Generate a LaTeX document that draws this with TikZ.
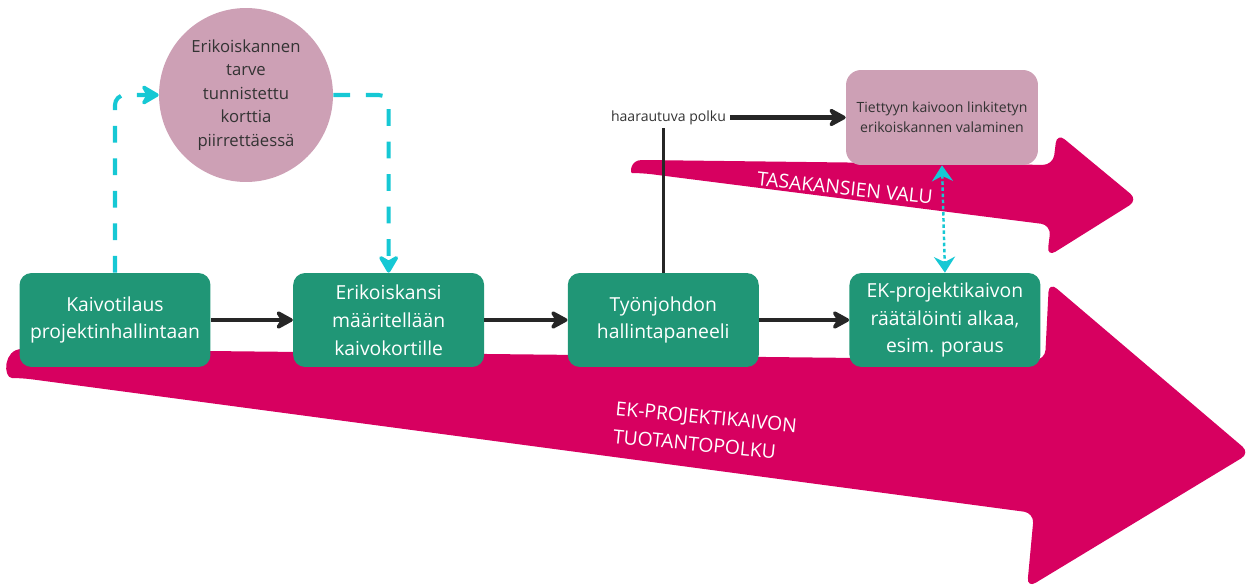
\documentclass[tikz,border=0pt]{standalone}
\usepackage{fontspec}
\setmainfont{Open Sans}
\usepackage{tikz}
\usetikzlibrary{arrows.meta,positioning}

\definecolor{ekgreen}{RGB}{32,150,118}
\definecolor{kansimauve}{RGB}{205,160,181}
\definecolor{polkupink}{RGB}{215,0,96}
\definecolor{linkcyan}{RGB}{22,200,212}
\definecolor{tekstigray}{RGB}{51,51,51}

\begin{document}
\begin{tikzpicture}[x=0.02cm, y=-0.02cm]
    % Define styles
    \tikzstyle{process} = [rectangle, rounded corners=0.24cm, minimum width=3.82cm, minimum height=1.88cm, text centered, align=center, fill=ekgreen, text=white, font=\fontsize{11}{15.9}\selectfont]
    \tikzstyle{mauve} = [fill=kansimauve, text=tekstigray, align=center]
    \tikzstyle{arrow} = [line width=2.4pt, draw=black!85, -{Stealth[length=12pt, width=13pt, inset=4pt, round]}]
    \tikzstyle{dasharrow} = [line width=2.3pt, draw=linkcyan, dash pattern=on 9.5pt off 9pt, rounded corners=0.2cm, -{Stealth[length=12pt, width=14pt, inset=4pt, round]}]
    \tikzstyle{dotarrow} = [line width=1.4pt, draw=linkcyan, dash pattern=on 2pt off 1.5pt, {Stealth[length=9pt, width=12pt, inset=3pt]}-{Stealth[length=9pt, width=12pt, inset=3pt]}]
    \tikzstyle{banner} = [fill=polkupink, rounded corners=0.2cm]
    \tikzstyle{bannertext} = [text=white, align=left, font=\fontsize{11}{16}\selectfont]

    \useasboundingbox (0,0) rectangle (1251,588);

    % Production paths
    \fill[banner] (22,349) -- (1045,360) -- (1049,282) -- (1250,453) -- (1027,588) -- (1034,513) -- (22,378) .. controls (3,378) and (3,349) .. (22,349);
    \fill[banner] (642,160) -- (1053,165) -- (1057,133) -- (1138,200) -- (1047,257) -- (1051,225) -- (642,173) .. controls (630,173) and (630,160) .. (642,160);
    \node (tuotanto) [bannertext, rotate=-5.5] at (705,431) {EK-PROJEKTIKAIVON\\TUOTANTOPOLKU};
    \node (tasakansi) [bannertext, rotate=-6] at (845,188) {TASAKANSIEN VALU};

    % Nodes
    \node (tilaus) [process] at (115,320) {Kaivotilaus\\projektinhallintaan};
    \node (maarittely) [process, right=1.64cm of tilaus] {Erikoiskansi\\määritellään\\kaivokortille};
    \node (tyonjohto) [process, right=1.66cm of maarittely] {Työnjohdon\\hallintapaneeli};
    \node (raatalointi) [process, right=1.8cm of tyonjohto] {EK-projektikaivon\\räätälöinti alkaa,\\esim. poraus};
    \node (tarve) [mauve, circle, minimum size=3.48cm, font=\fontsize{9.5}{13.3}\selectfont] at (246,95) {Erikoiskannen\\tarve\\tunnistettu\\korttia\\piirrettäessä};
    \node (valaminen) [mauve, rectangle, rounded corners=0.3cm, minimum width=3.84cm, minimum height=1.9cm, font=\fontsize{8}{11.3}\selectfont] at (942,117.5) {Tiettyyn kaivoon linkitetyn\\erikoiskannen valaminen};
    \node (haara) [text=tekstigray, inner sep=2pt, font=\fontsize{8}{10}\selectfont] at (668.5,117.5) {haarautuva polku};

    % Arrows
    \draw [arrow] (tilaus) -- (maarittely);
    \draw [arrow] (maarittely) -- (tyonjohto);
    \draw [arrow] (tyonjohto) -- (raatalointi);
    \draw [line width=2pt, draw=black!85] (tyonjohto.north) -- (tyonjohto.north |- haara.south);
    \draw [arrow] (haara) -- (valaminen);
    \draw [dasharrow] (tilaus.north) |- (tarve.west);
    \draw [dasharrow] (tarve.east) -| (maarittely.north);
    \draw [dotarrow] (valaminen.south) -- (raatalointi.north);
\end{tikzpicture}
\end{document}
